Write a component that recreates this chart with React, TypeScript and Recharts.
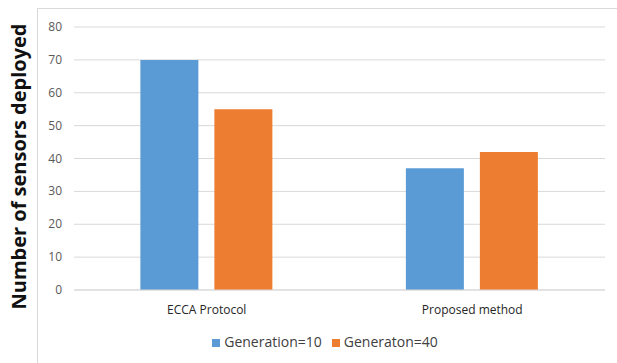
import { BarChart, Bar, XAxis, YAxis, CartesianGrid, Legend } from "recharts"

const categories = ["ECCA Protocol", "Proposed method"]
const gen10 = [70, 37]
const gen40 = [55, 42]
const yTicks = [0, 10, 20, 30, 40, 50, 60, 70, 80]

const data = categories.map((name, i) => ({
  name,
  gen10: gen10[i],
  gen40: gen40[i],
}))

const font = "'Open Sans', 'Noto Sans', sans-serif"

const YTick = (props: any) => {
  const { y, payload } = props
  return (
    <text x={62} y={y} dy={4} textAnchor="end" fontSize={12} fill="#595959" fontFamily={font}>
      {payload.value}
    </text>
  )
}

const XTick = (props: any) => {
  const { x, y, payload } = props
  return (
    <text x={x} y={y} dy={16} textAnchor="middle" fontSize={12} fill="#262626" fontFamily={font}>
      {payload.value}
    </text>
  )
}

const YLabel = (props: any) => {
  const { viewBox } = props
  const cy = viewBox.y + viewBox.height / 2 + 8
  return (
    <text
      x={18}
      y={cy}
      transform={`rotate(-90, 18, ${cy})`}
      textAnchor="middle"
      dominantBaseline="central"
      fontSize={20}
      fontWeight="bold"
      fill="#111"
      fontFamily={font}
    >
      Number of sensors deployed
    </text>
  )
}

export default function App() {
  return (
    <div style={{ position: "absolute", left: 0, top: 0, width: 617, height: 363, background: "#fff" }}>
      <div
        style={{
          position: "absolute",
          left: 37,
          top: 8,
          width: 580,
          height: 355,
          borderLeft: "1px solid #d9d9d9",
          borderTop: "1px solid #d9d9d9",
        }}
      />
      <BarChart
        width={617}
        height={363}
        data={data}
        margin={{ top: 27, right: 12, bottom: 0, left: 0 }}
        barCategoryGap="25%"
        barGap={16}
        style={{ position: "absolute", left: 0, top: 0 }}
      >
        <CartesianGrid vertical={false} stroke="#d9d9d9" />
        <XAxis
          dataKey="name"
          tick={<XTick />}
          tickLine={false}
          axisLine={{ stroke: "#d9d9d9" }}
          height={54}
        />
        <YAxis
          domain={[0, 80]}
          ticks={yTicks}
          width={74}
          tick={<YTick />}
          tickLine={false}
          axisLine={false}
          label={<YLabel />}
        />
        <Legend
          verticalAlign="bottom"
          iconType="square"
          iconSize={8}
          wrapperStyle={{ left: 60, width: 540, bottom: 12, fontSize: 14, fontFamily: font }}
          formatter={(v: string) => <span style={{ color: "#404040" }}>{v}</span>}
        />
        <Bar dataKey="gen10" name="Generation=10" fill="#5B9BD5" isAnimationActive={false} />
        <Bar dataKey="gen40" name="Generaton=40" fill="#ED7D31" isAnimationActive={false} />
      </BarChart>
    </div>
  )
}
